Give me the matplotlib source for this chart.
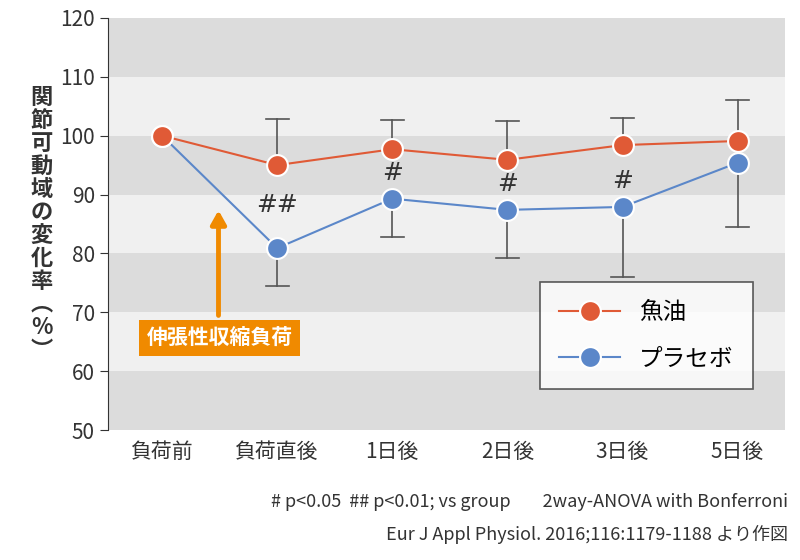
import matplotlib.pyplot as plt

plt.rcParams["font.family"] = ["Noto Sans CJK JP"]

# data
categories = ["負荷前", "負荷直後", "1日後", "2日後", "3日後", "5日後"]
fish_oil = [100, 95.0, 97.7, 95.9, 98.4, 99.1]
fish_upper = [100, 102.8, 102.6, 102.5, 103.0, 106.1]
placebo = [100, 80.9, 89.3, 87.4, 87.9, 95.4]
placebo_lower = [100, 74.5, 82.8, 79.2, 76.0, 84.5]
marks = ["", "##", "#", "#", "#", ""]

RED = "#e05a36"
BLUE = "#5b87c9"

fig = plt.figure(figsize=(8, 5.6), dpi=100)
ax = fig.add_axes([0.135, 0.232, 0.846, 0.736])
x = list(range(len(categories)))

# background bands
for lo in range(50, 120, 10):
    ax.axhspan(lo, lo + 10, color="#dcdcdc" if (lo // 10) % 2 == 1 else "#f0f0f0", zorder=0, lw=0)

# error bars
for i in x[1:]:
    ax.plot([i, i], [fish_oil[i], fish_upper[i]], color="#555555", lw=1.2, zorder=2)
    ax.plot([i - 0.1, i + 0.1], [fish_upper[i]] * 2, color="#555555", lw=1.2, zorder=2)
    ax.plot([i, i], [placebo[i], placebo_lower[i]], color="#555555", lw=1.2, zorder=2)
    ax.plot([i - 0.1, i + 0.1], [placebo_lower[i]] * 2, color="#555555", lw=1.2, zorder=2)

ax.plot(x, placebo, color=BLUE, lw=1.5, marker="o", ms=15, mfc=BLUE, mec="white", mew=1.5, zorder=3, label="プラセボ")
ax.plot(x, fish_oil, color=RED, lw=1.5, marker="o", ms=15, mfc=RED, mec="white", mew=1.5, zorder=4, label="魚油")

for i, m in enumerate(marks):
    if m:
        off = 7.3 if m == "##" else 4.4
        ax.text(i, placebo[i] + off, m, ha="center", va="center", fontsize=18, color="#333333",
                family="DejaVu Sans")

ax.set_xlim(-0.47, 5.41)
ax.set_ylim(50, 120)
ax.set_yticks(range(50, 121, 10))
ax.set_xticks(x)
ax.set_xticklabels(categories, fontsize=15)
ax.tick_params(axis="y", labelsize=15, direction="out", length=6, colors="#333333")
ax.tick_params(axis="x", length=0, pad=8, colors="#333333")
for s in ["top", "right", "bottom"]:
    ax.spines[s].set_visible(False)
ax.spines["left"].set_color("#333333")

# arrow + label
ax.annotate("", xy=(0.49, 87.8), xytext=(0.49, 69),
            arrowprops=dict(arrowstyle="-|>,head_width=0.45,head_length=0.8", color="#f08a00", lw=3.5))
ax.text(0.5, 65.6, "伸張性収縮負荷", ha="center", va="center", fontsize=15, color="white",
        fontweight="bold", bbox=dict(boxstyle="square,pad=0.35", fc="#f08a00", ec="none"))

leg = ax.legend(handles=ax.get_lines()[-1:] + ax.get_lines()[-2:-1], loc="lower right",
                bbox_to_anchor=(0.97, 0.07), fontsize=17, frameon=True, fancybox=False,
                edgecolor="#333333", handlelength=2.6, borderpad=0.8, labelspacing=1.0)
leg.get_frame().set_linewidth(1.2)

fig.text(0.052, 0.6, "\n".join("関節可動域の変化率") + "\n︵\n%\n︶", ha="center", va="center",
         fontsize=16, fontweight="bold", linespacing=1.0, color="#333333")
fig.text(0.985, 0.095, "# p<0.05  ## p<0.01; vs group        2way-ANOVA with Bonferroni",
         ha="right", fontsize=13, color="#333333")
fig.text(0.985, 0.035, "Eur J Appl Physiol. 2016;116:1179-1188 より作図",
         ha="right", fontsize=13, color="#333333")

fig.savefig("out.png")
